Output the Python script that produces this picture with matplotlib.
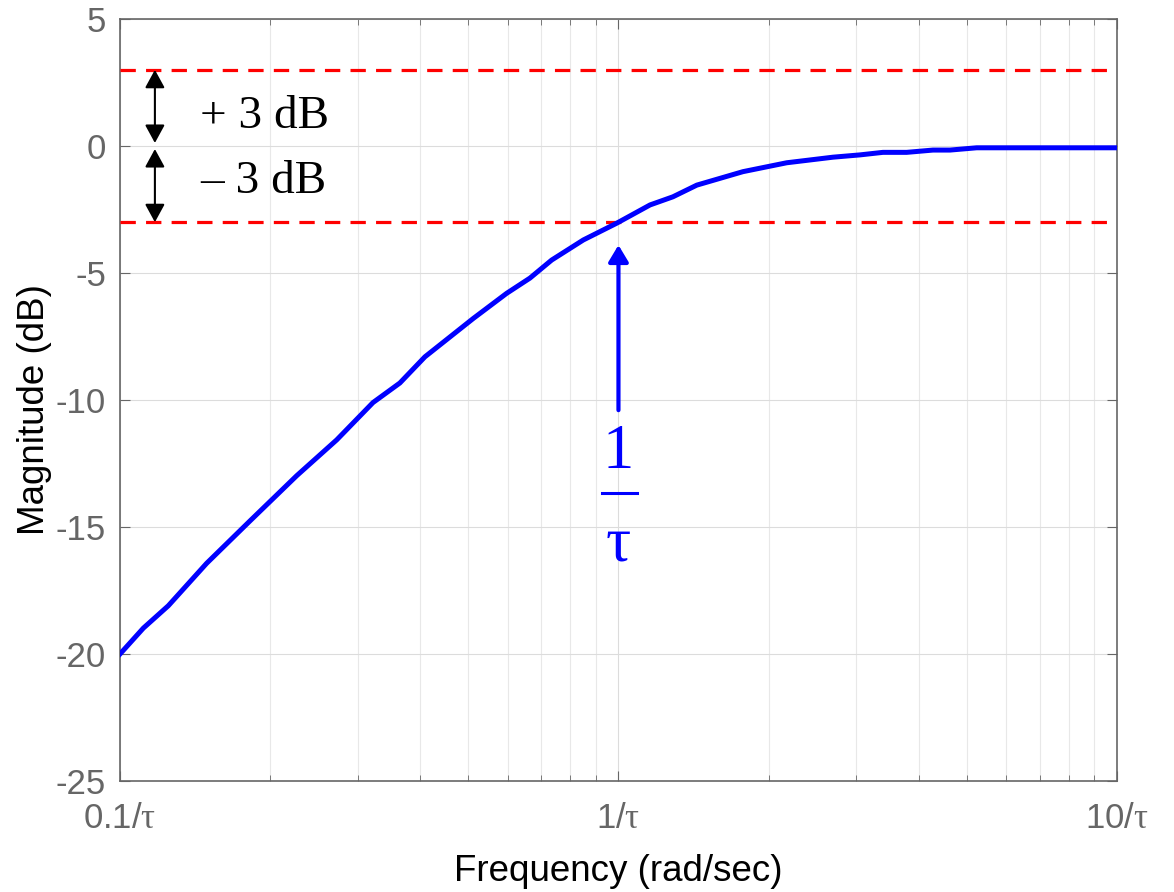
import numpy as np
import matplotlib.pyplot as plt

# ── data (w in units of 1/tau) ──────────────────────────────────────────
freq = [0.1, 0.1114, 0.125, 0.1492, 0.1823, 0.2262, 0.2721, 0.3218, 0.3643,
        0.409, 0.5113, 0.5966, 0.6644, 0.7345, 0.85, 0.9917, 1.157, 1.286,
        1.436, 1.777, 2.175, 2.694, 3.051, 3.393, 3.786, 4.275, 4.624, 5.232,
        8.05, 10.0]
mag_db = [-20.0, -18.98, -18.1, -16.43, -14.76, -12.98, -11.57, -10.1, -9.33,
          -8.3, -6.79, -5.8, -5.2, -4.49, -3.7, -3.04, -2.32, -2.0,
          -1.54, -1.01, -0.66, -0.44, -0.35, -0.25, -0.25, -0.16, -0.16, -0.07,
          -0.07, -0.07]
band_db = [3, -3]
y_ticks = [5, 0, -5, -10, -15, -20, -25]
x_ticks = [0.1, 1, 10]
x_ticklabels = [r'0.1/$\tau$', r'1/$\tau$', r'10/$\tau$']

plt.rcParams['mathtext.fontset'] = 'custom'
plt.rcParams['mathtext.rm'] = 'Liberation Serif'
plt.rcParams['mathtext.it'] = 'Liberation Serif'
plt.rcParams['mathtext.bf'] = 'Liberation Serif:bold'
plt.rcParams['axes.unicode_minus'] = False
plt.rcParams['font.family'] = ['Liberation Sans', 'DejaVu Sans']

GREY = '#666666'
fig = plt.figure(figsize=(11.74, 8.92), dpi=100)
ax = fig.add_axes([0.1022, 0.1244, 0.8492, 0.8543])

ax.set_xscale('log')
ax.set_xlim(0.1, 10)
ax.set_ylim(-25, 5)

ax.grid(True, which='major', color='#dcdcdc', lw=0.8)
ax.grid(True, which='minor', color='#e8e8e8', lw=0.8)
ax.set_axisbelow(True)

# ±3 dB reference lines
for b in band_db:
    ax.axhline(b, color='#ff0000', lw=2.3, ls=(0, (4.8, 3.2)), zorder=3)

ax.plot(freq, mag_db, color='#0000ff', lw=3.6, zorder=4)

# double arrows marking the band
arr_x = 0.1175
dbl = dict(arrowstyle='<|-|>,head_length=0.55,head_width=0.3',
           color='black', lw=1.5, mutation_scale=20, shrinkA=0, shrinkB=0)
ax.annotate('', xy=(arr_x, band_db[0]), xytext=(arr_x, 0.12), arrowprops=dbl)
ax.annotate('', xy=(arr_x, -0.12), xytext=(arr_x, band_db[1]), arrowprops=dbl)
ax.text(0.1447, 0.71, '+ 3 dB', family='Liberation Serif', fontsize=34,
        va='baseline', ha='left')
ax.text(0.1447, -1.85, '\u2013 3 dB', family='Liberation Serif', fontsize=34,
        va='baseline', ha='left')

# corner frequency marker
ax.annotate('', xy=(1, -3.9), xytext=(1, -10.4),
            arrowprops=dict(arrowstyle='-|>,head_length=0.5,head_width=0.3',
                            color='#0000ff', lw=3, mutation_scale=20,
                            shrinkA=0, shrinkB=0))
ax.text(1, -12.68, '1', family='Liberation Serif', fontsize=45,
        color='#0000ff', ha='center', va='baseline')
ax.plot([0.926, 1.089], [-13.65, -13.65], color='#0000ff', lw=2.2)
ax.text(1, -16.3, '\u03c4', family='Liberation Serif', fontsize=45,
        color='#0000ff', ha='center', va='baseline')

ax.set_yticks(y_ticks)
ax.set_xticks(x_ticks)
ax.set_xticklabels(x_ticklabels)
ax.tick_params(which='both', direction='in', top=True, right=True,
               colors=GREY, labelsize=25, labelcolor=GREY)
ax.tick_params(which='major', length=7)
ax.tick_params(which='minor', length=4)
ax.tick_params(axis='x', pad=15)
ax.tick_params(axis='y', pad=10)
for s in ax.spines.values():
    s.set_color(GREY)
    s.set_linewidth(1.2)

ax.set_xlabel('Frequency (rad/sec)', fontsize=26.5)
ax.set_ylabel('Magnitude (dB)', fontsize=26.5)
ax.xaxis.set_label_coords(0.5, -0.096)
ax.yaxis.set_label_coords(-0.068, 0.487)

fig.savefig('out.png', dpi=100)
